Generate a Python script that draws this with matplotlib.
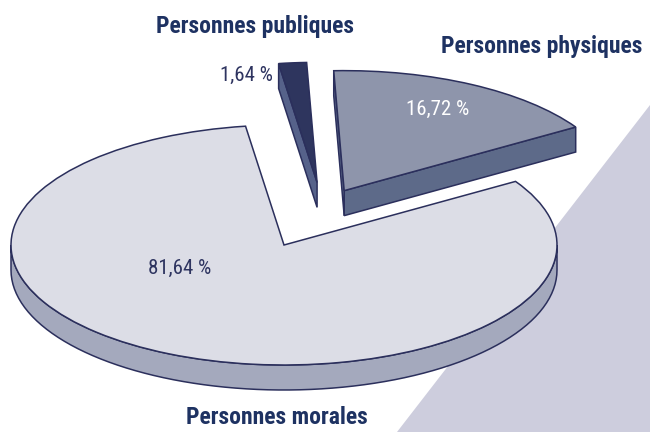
import numpy as np
import matplotlib.pyplot as plt
from matplotlib.patches import Polygon

# données
labels = ["Personnes physiques", "Personnes publiques", "Personnes morales"]
values = [16.72, 1.64, 81.64]
pct_text = ["16,72 %", "1,64 %", "81,64 %"]

top_colors = ["#8e95ab", "#2e355e", "#dcdde6"]
side_colors = ["#5d6a89", "#56628a", "#a4a9bd"]
edge = "#2b2f5c"
navy = "#1e3262"
font = ["Roboto Condensed", "DejaVu Sans"]

depth = 25 / 120          # épaisseur du camembert (unités y)
sx, sy = 273.0, 120.0     # pixels par unité (ellipse)

fig = plt.figure(figsize=(6.5, 4.32), dpi=100)
ax = fig.add_axes([0, 0, 1, 1])
ax.axis("off")

# fond : triangle clair en bas à droite
ax.add_patch(Polygon([[1, 1 - 105 / 432], [397 / 650, 0], [1, 0]], closed=True,
                     transform=ax.transAxes, facecolor="#cdcddd",
                     edgecolor="none", zorder=0))

wedges, _ = ax.pie(values, colors=top_colors, startangle=32,
                   explode=[0.17, 0.22, 0.334],
                   wedgeprops=dict(edgecolor=edge, linewidth=1.1))


def arc(cx, cy, r, a, b, n=80):
    t = np.radians(np.linspace(a, b, n))
    return np.column_stack([cx + r * np.cos(t), cy + r * np.sin(t)])


def band(pts):
    low = pts.copy()
    low[:, 1] -= depth
    return np.vstack([pts, low[::-1]])


for i, w in enumerate(wedges):
    cx, cy = w.center
    r, t1, t2 = w.r, w.theta1, w.theta2
    z = 2 * i + 1
    faces = []
    # paroi extérieure visible (partie avant)
    for lo, hi in [(180, 360), (540, 720)]:
        a, b = max(t1, lo), min(t2, hi)
        if b > a:
            faces.append(band(arc(cx, cy, r, a, b)))
    # faces radiales visibles
    for t, vis in [(t1, np.cos(np.radians(t1)) > 1e-6),
                   (t2, np.cos(np.radians(t2)) < -1e-6)]:
        if vis:
            p = np.array([[cx, cy], [cx + r * np.cos(np.radians(t)),
                                     cy + r * np.sin(np.radians(t))]])
            faces.append(band(p))
    for f in faces:
        ax.add_patch(Polygon(f, closed=True, facecolor=side_colors[i],
                             edgecolor=edge, linewidth=1.1, zorder=z))
    w.set_zorder(z + 1)

cmx, cmy = wedges[2].center
ax.set_aspect("auto")
ax.set_xlim(cmx - 284 / sx, cmx + 366 / sx)
ax.set_ylim(cmy - 187 / sy, cmy + 245 / sy)

# titres
fig.text(255 / 650, 1 - 27 / 432, labels[1], ha="center", va="center",
         fontsize=17, fontweight="bold", color=navy, family=font)
fig.text(542 / 650, 1 - 47 / 432, labels[0], ha="center", va="center",
         fontsize=17, fontweight="bold", color=navy, family=font)
fig.text(277 / 650, 1 - 418 / 432, labels[2], ha="center", va="center",
         fontsize=17, fontweight="bold", color=navy, family=font)

# pourcentages
fig.text(246 / 650, 1 - 75 / 432, pct_text[1], ha="center", va="center",
         fontsize=15, color="#2e3460", family=font)
fig.text(438 / 650, 1 - 109 / 432, pct_text[0], ha="center", va="center",
         fontsize=15, color="white", family=font)
fig.text(180 / 650, 1 - 268 / 432, pct_text[2], ha="center", va="center",
         fontsize=15, color="#2e3460", family=font)

fig.savefig("out.png", dpi=100)
